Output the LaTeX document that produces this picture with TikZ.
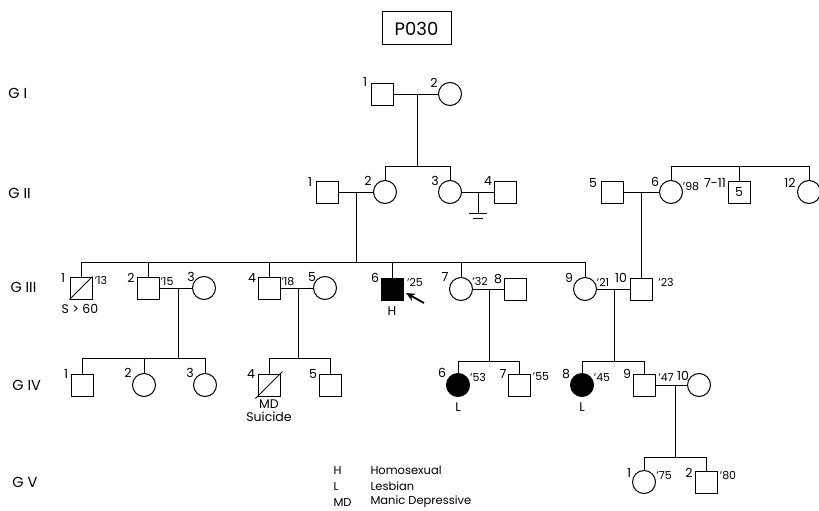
\documentclass[tikz,border=0pt]{standalone}
\usepackage{fontspec}
\setmainfont{Poppins}
\usetikzlibrary{arrows.meta}
\begin{document}
\begin{tikzpicture}[x=1pt,y=-1pt, line width=1pt,
  male/.style={draw, rectangle, minimum size=22pt, inner sep=0pt},
  female/.style={draw, circle, minimum size=23pt, inner sep=0pt},
  aff/.style={fill=black},
  num/.style={font=\fontsize{12.5}{12.5}\selectfont, inner sep=0pt},
  yr/.style={font=\fontsize{11}{11}\selectfont, inner sep=0pt},
  gen/.style={font=\fontsize{14.5}{14.5}\selectfont, inner sep=0pt, anchor=west},
  leg/.style={font=\fontsize{11.5}{11.5}\selectfont, inner sep=0pt, anchor=west}]
\useasboundingbox (0,0) rectangle (819,511);

% title
\node[draw, minimum width=69pt, minimum height=33pt, inner sep=0pt, font=\fontsize{18}{18}\selectfont] (title) at (416.5,28.5) {P030};

% generation labels
\node[gen] (g1) at (8,93) {G I};
\node[gen] (g2) at (8,193) {G II};
\node[gen] (g3) at (10,287) {G III};
\node[gen] (g4) at (12,385) {G IV};
\node[gen] (g5) at (12,482) {G V};

% ---------- G I ----------
\node[male] (I1) at (382,94) {};
\node[female] (I2) at (450,94) {};
\node[num] (lI1) at (365,82) {1};
\node[num] (lI2) at (434,83) {2};
\draw (I1) -- (I2);
\coordinate (m1) at (417,94);
\coordinate (s1) at (417,166);
\draw (m1) -- (s1);

% ---------- G II ----------
\node[male] (II1) at (327,192) {};
\node[female] (II2) at (385,192) {};
\node[female] (II3) at (450,192) {};
\node[male] (II4) at (505,192) {};
\node[num] (lII1) at (310,182) {1};
\node[num] (lII2) at (368,181) {2};
\node[num] (lII3) at (435,181) {3};
\node[num] (lII4) at (488,181) {4};
\draw (II2.north) -- (II2.north |- s1) -- (II3.north |- s1) -- (II3.north);
\draw (II1) -- (II2);
\coordinate (m2) at (356,192);
\coordinate (s2) at (356,262);
\draw (m2) -- (s2);
\draw (II3) -- (II4);
\coordinate (m3) at (478,192);
\coordinate (n3) at (478,213);
\coordinate (n4) at (478,218);
\draw (m3) -- (n3);
\draw ([xshift=-9pt]n3) -- ([xshift=9pt]n3);
\draw ([xshift=-5pt]n4) -- ([xshift=5pt]n4);

\node[male] (II5) at (612,192) {};
\node[female] (II6) at (671,192) {};
\node[male, font=\fontsize{12.5}{12.5}\selectfont] (II7) at (739,192) {5};
\node[female] (II12) at (809,192) {};
\node[num] (lII5) at (593,183) {5};
\node[num] (lII6) at (655,182) {6};
\node[yr] (yII6) at (691,187) {'98};
\node[num] (lII7) at (715,183) {7-11};
\node[num] (lII12) at (790,183) {12};
\draw (II5) -- (II6);
\draw (II6.north) -- (II6.north |- s1) -- (II12.north |- s1) -- (II12.north);
\draw (II7.north) -- (II7.north |- s1);
\coordinate (m4) at (641,192);

% ---------- G III ----------
\node[male] (III1) at (81,288) {};
\node[male] (III2) at (148,288) {};
\node[female] (III3) at (204,288) {};
\node[male] (III4) at (269,288) {};
\node[female] (III5) at (325,288) {};
\node[male, aff] (III6) at (392,289) {};
\node[female] (III7) at (461,289) {};
\node[male] (III8) at (515,289) {};
\node[female] (III9) at (585,289) {};
\node[male] (III10) at (641,289) {};
\draw (III1.south west) -- (III1.north east);

\node[num] (lIII1) at (63,278) {1};
\node[yr] (yIII1) at (101,280) {'13};
\node[num] (dIII1) at (80,309) {S > 60};
\node[num] (lIII2) at (131,278) {2};
\node[yr] (yIII2) at (167,282) {'15};
\node[num] (lIII3) at (191,277) {3};
\node[num] (lIII4) at (252,278) {4};
\node[yr] (yIII4) at (288,282) {'18};
\node[num] (lIII5) at (312,277) {5};
\node[num] (lIII6) at (375,278) {6};
\node[yr] (yIII6) at (415,282) {'25};
\node[num] (dIII6) at (392,311) {H};
\node[num] (lIII7) at (445,277) {7};
\node[yr] (yIII7) at (480,281) {'32};
\node[num] (lIII8) at (498,279) {8};
\node[num] (lIII9) at (569,278) {9};
\node[yr] (yIII9) at (603,282) {'21};
\node[num] (lIII10) at (621,278) {10};
\node[yr] (yIII10) at (666,282) {'23};

\draw (III1.north) -- (III1.north |- s2) -- (III9.north |- s2) -- (III9.north);
\foreach \p in {III2,III4,III6,III7} \draw (\p.north) -- (\p.north |- s2);
\draw (m4) -- (III10.north);

\coordinate (arT) at (424,303);
\coordinate (arH) at (406,293);
\draw[-{Stealth[length=9pt,width=8pt]}, line width=1.8pt] (arT) -- (arH);

\draw (III2) -- (III3);
\coordinate (m5) at (178,288);
\coordinate (s5) at (178,358);
\draw (m5) -- (s5);
\draw (III4) -- (III5);
\coordinate (m6) at (298,288);
\coordinate (s6) at (298,358);
\draw (m6) -- (s6);
\draw (III7) -- (III8);
\coordinate (m7) at (489,289);
\coordinate (s7) at (489,361);
\draw (m7) -- (s7);
\draw (III9) -- (III10);
\coordinate (m8) at (614,289);
\coordinate (s8) at (614,361);
\draw (m8) -- (s8);

% ---------- G IV ----------
\node[male] (IV1) at (82,385) {};
\node[female] (IV2) at (144,385) {};
\node[female] (IV3) at (205,385) {};
\node[male] (IV4) at (269,385) {};
\node[male] (IV5) at (330,385) {};
\node[female, aff] (IV6) at (458,385) {};
\node[male] (IV7) at (519,385) {};
\node[female, aff] (IV8) at (582,385) {};
\node[male] (IV9) at (644,385) {};
\node[female] (IV10) at (699,385) {};
\draw ([shift={(-2,2)}]IV4.south west) -- ([shift={(2,-2)}]IV4.north east);

\node[num] (lIV1) at (66,374) {1};
\node[num] (lIV2) at (128,373) {2};
\node[num] (lIV3) at (190,373) {3};
\node[num] (lIV4) at (251,374) {4};
\node[num] (dIV4a) at (269,404) {MD};
\node[num] (dIV4b) at (269,417) {Suicide};
\node[num] (lIV5) at (313,374) {5};
\node[num] (lIV6) at (442,373) {6};
\node[yr] (yIV6) at (478,377) {'53};
\node[num] (dIV6) at (458,407) {L};
\node[num] (lIV7) at (503,374) {7};
\node[yr] (yIV7) at (541,377) {'55};
\node[num] (lIV8) at (566,374) {8};
\node[yr] (yIV8) at (602,378) {'45};
\node[num] (dIV8) at (582,407) {L};
\node[num] (lIV9) at (627,374) {9};
\node[yr] (yIV9) at (666,378) {'47};
\node[num] (lIV10) at (683,376) {10};

\draw (IV1.north) -- (IV1.north |- s5) -- (IV3.north |- s5) -- (IV3.north);
\draw (IV2.north) -- (IV2.north |- s5);
\draw (IV4.north) -- (IV4.north |- s6) -- (IV5.north |- s6) -- (IV5.north);
\draw (IV6.north) -- (IV6.north |- s7) -- (IV7.north |- s7) -- (IV7.north);
\draw (IV8.north) -- (IV8.north |- s8) -- (IV9.north |- s8) -- (IV9.north);
\draw (IV9) -- (IV10);
\coordinate (m9) at (675,385);
\coordinate (s9) at (675,457);
\draw (m9) -- (s9);

% ---------- G V ----------
\node[female] (V1) at (644,482) {};
\node[male] (V2) at (706,482) {};
\node[num] (lV1) at (629,473) {1};
\node[yr] (yV1) at (664,476) {'75};
\node[num] (lV2) at (689,473) {2};
\node[yr] (yV2) at (728,476) {'80};
\draw (V1.north) -- (V1.north |- s9) -- (V2.north |- s9) -- (V2.north);

% ---------- legend ----------
\node[leg] (kH) at (333,470) {H};
\node[leg] (kL) at (333,486) {L};
\node[leg] (kMD) at (333,502) {MD};
\node[leg] (tH) at (370,470) {Homosexual};
\node[leg] (tL) at (370,486) {Lesbian};
\node[leg] (tMD) at (370,502) {Manic Depressive};
\end{tikzpicture}
\end{document}
